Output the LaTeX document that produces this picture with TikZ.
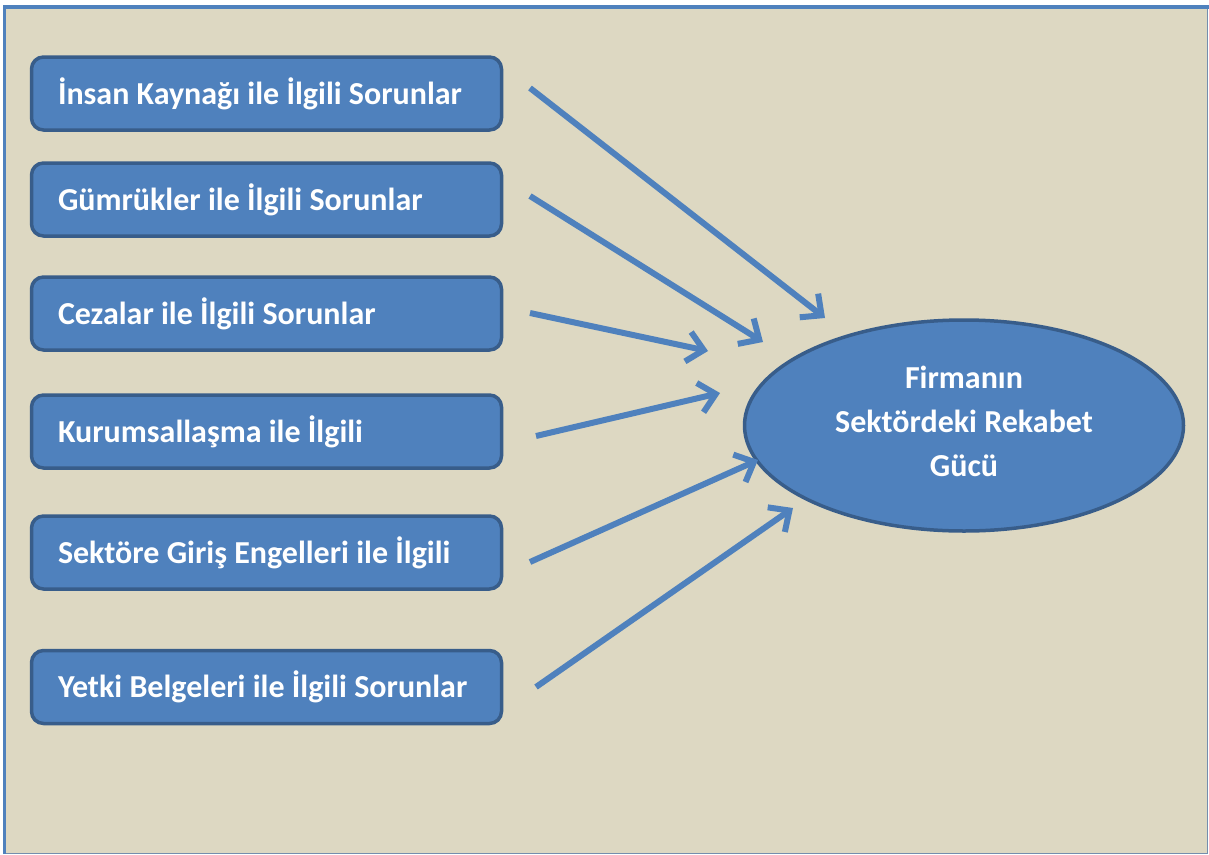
\documentclass[tikz,border=0pt]{standalone}
\usepackage{fontspec}
\setmainfont{Carlito}
\usetikzlibrary{arrows.meta,shapes.geometric}
\definecolor{kutumavi}{HTML}{4F81BD}
\definecolor{kenarmavi}{HTML}{385D8A}
\definecolor{zemin}{HTML}{DDD8C2}
\tikzset{
  sorun/.style={draw=kenarmavi, line width=3.5pt, fill=kutumavi, rounded corners=12pt,
    minimum width=470pt, minimum height=73pt, text width=417pt, inner xsep=26.5pt,
    align=flush left, text=white, font=\bfseries\fontsize{32}{38}\selectfont},
  hedef/.style={ellipse, draw=kenarmavi, line width=3.5pt, fill=kutumavi,
    minimum width=439pt, minimum height=211pt, inner sep=0pt, align=center,
    text depth=9pt, text=white, font=\bfseries\fontsize{32}{44}\selectfont},
  ok/.style={draw=kutumavi, line width=6pt, -{Straight Barb[length=16pt,width=30pt]}}
}
\begin{document}
\begin{tikzpicture}[x=1pt,y=-1pt]
            \useasboundingbox (0,0) rectangle (1209,854);
            % frame
            \fill [zemin] (4,7) rectangle (1208,853);
            \draw [kenarmavi!70, line width=1pt] (1207.5,7) -- (1207.5,853) -- (4,853);
            \draw [kutumavi, line width=3pt] (4.5,854) -- (4.5,7);
            \draw [kutumavi, line width=4.5pt] (3,7) -- (1209,7);
            % boxes
            \foreach \y/\metin [count=\i] in {93.5/{İnsan Kaynağı ile İlgili Sorunlar},
                199.5/{Gümrükler ile İlgili Sorunlar}, 313.5/{Cezalar ile İlgili Sorunlar},
                431.5/{Kurumsallaşma ile İlgili}, 552.5/{Sektöre Giriş Engelleri ile İlgili},
                687/{Yetki Belgeleri ile İlgili Sorunlar}}
                \node [sorun] (s\i) at (266.5,\y) {\metin};
            \node [hedef] (rekabet) at (964,425.5) {Firmanın\\Sektördeki Rekabet\\Gücü};
            % arrows
            \foreach \i/\ax/\ay/\ux/\uy in {1/530/88/825/318, 2/530/196/763/342,
                3/530/313/708/351, 4/536/436/720/393, 5/530/562/758/460, 6/536/687/793/508}{
                \coordinate (a\i) at (\ax,\ay);
                \coordinate (u\i) at (\ux,\uy);
                \draw [ok] (a\i) -- (u\i);
            }
\end{tikzpicture}
\end{document}
